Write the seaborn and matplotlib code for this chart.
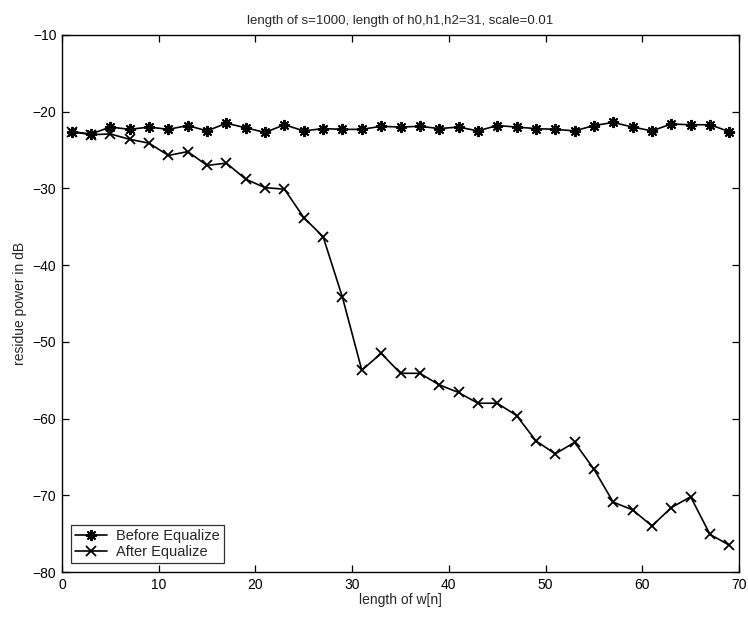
import matplotlib
matplotlib.use("Agg")
import matplotlib.pyplot as plt
import seaborn as sns
import pandas as pd

x_len = list(range(1, 70, 2))
before_eq = [-22.6, -22.9, -22.0, -22.3, -22.0, -22.3, -21.8, -22.5, -21.5, -22.1,
             -22.7, -21.7, -22.5, -22.2, -22.3, -22.3, -21.9, -22.0, -21.9, -22.2,
             -22.0, -22.5, -21.8, -22.0, -22.2, -22.3, -22.5, -21.8, -21.4, -22.0,
             -22.5, -21.6, -21.7, -21.7, -22.6]
after_eq = [-22.6, -23.0, -22.9, -23.6, -24.1, -25.7, -25.2, -27.0, -26.7, -28.8,
            -29.9, -30.1, -33.8, -36.3, -44.2, -53.7, -51.5, -54.1, -54.1, -55.6,
            -56.6, -58.0, -58.0, -59.6, -62.9, -64.6, -63.1, -66.6, -70.9, -71.9,
            -74.0, -71.6, -70.2, -75.1, -76.5]
series_names = ["Before Equalize", "After Equalize"]
x_ticks = list(range(0, 71, 10))
y_ticks = list(range(-80, -9, 10))

df_before = pd.DataFrame({"x": x_len, "y": before_eq})
df_after = pd.DataFrame({"x": x_len, "y": after_eq})

sns.set_style("ticks")
plt.rcParams["font.family"] = ["Liberation Sans", "DejaVu Sans"]

fig = plt.figure(figsize=(7.48, 6.17), dpi=100)
ax = fig.add_axes([62 / 748, 1 - 572 / 617, (739 - 62) / 748, (572 - 35) / 617])

sns.lineplot(data=df_before, x="x", y="y", color="black", marker=(8, 2, 0),
             markersize=8, markeredgewidth=1.4, markeredgecolor="black",
             linewidth=1.2, ax=ax, label=series_names[0])
sns.lineplot(data=df_after, x="x", y="y", color="black", marker="x",
             markersize=6.5, markeredgewidth=1.3, markeredgecolor="black",
             linewidth=1.2, ax=ax, label=series_names[1])

ax.set_xlim(0, 70)
ax.set_ylim(-80, -10)
ax.set_xticks(x_ticks)
ax.set_yticks(y_ticks)
ax.set_xticklabels([str(v) for v in x_ticks])
ax.set_yticklabels([str(v).replace("-", "\u2212") for v in y_ticks])
ax.tick_params(direction="in", top=True, right=True, length=5, width=0.9,
               labelsize=10, colors="black", pad=4)
for s in ax.spines.values():
    s.set_visible(True)
    s.set_color("black")
    s.set_linewidth(1.0)

ax.set_xlabel("length of w[n]", fontsize=10, labelpad=1)
ax.set_ylabel("residue power in dB", fontsize=10, labelpad=4)
ax.set_title("length of s=1000, length of h0,h1,h2=31, scale=0.01", fontsize=9.5, pad=8)

leg = ax.legend(loc="lower left", fontsize=10.5, frameon=True, fancybox=False,
                edgecolor="black", borderpad=0.3, handlelength=2.2,
                handletextpad=0.6, labelspacing=0.1, borderaxespad=0.6)
leg.get_frame().set_linewidth(0.9)

fig.savefig("out.png", dpi=100)
